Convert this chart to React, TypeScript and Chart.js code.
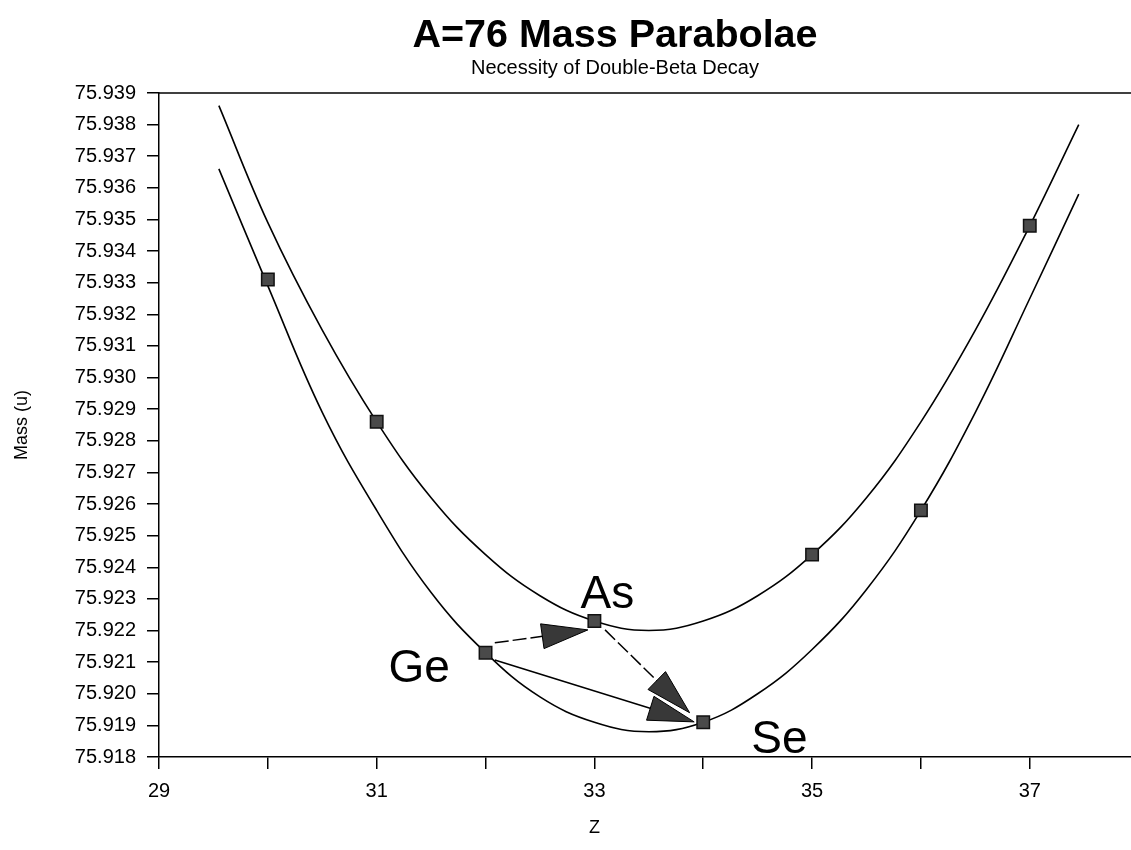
import React, { useEffect, useRef } from 'react';
import { Chart, registerables } from 'chart.js';

Chart.register(...registerables);

const FONT = '"Liberation Sans", Arial, Helvetica, sans-serif';

// ---- text ----
const chartTitle = 'A=76 Mass Parabolae';
const chartSubtitle = 'Necessity of Double-Beta Decay';
const xAxisTitle = 'Z';
const yAxisTitle = 'Mass (u)';

// ---- measured isotopes (A = 76) ----
const isotopeZ = [30, 31, 32, 33, 34, 35, 36, 37];
const isotopeMass = [75.9331, 75.9286, 75.9213, 75.9223, 75.9191, 75.9244, 75.9258, 75.9348];

// ---- parabola curves ----
const curveZ = [29.55, 30, 30.5, 31, 31.5, 32, 32.5, 33, 33.5, 34, 34.5, 35, 35.5, 36, 36.5, 37, 37.45];
const oddOddMass = [
  75.9386, 75.9349, 75.9315, 75.9286, 75.9262, 75.9244, 75.9231, 75.9223, 75.922,
  75.9223, 75.9231, 75.9244, 75.9262, 75.9286, 75.9315, 75.9348, 75.938,
];
const evenEvenMass = [
  75.9366, 75.9329, 75.9289, 75.9258, 75.9232, 75.9213, 75.9199, 75.9191, 75.9188,
  75.9191, 75.92, 75.9214, 75.9233, 75.9258, 75.9289, 75.9325, 75.9358,
];

// ---- axes ----
const xMin = 29;
const xMax = 37.93;
const xStep = 1;
const xLabelTicks = [29, 31, 33, 35, 37];
const yMin = 75.918;
const yMax = 75.939;
const yStep = 0.001;

// ---- annotations (data coordinates) ----
const nuclideLabels = ['Ge', 'As', 'Se'];
const nuclideLabelZ = [31.39, 33.12, 34.7];
const nuclideLabelMass = [75.92038, 75.92272, 75.91813];

const arrowFromZ = [32.085, 33.098, 32.085];
const arrowFromMass = [75.92161, 75.92202, 75.92107];
const arrowToZ = [32.94, 33.875, 33.917];
const arrowToMass = [75.92202, 75.9194, 75.91911];
const arrowDashed = [true, true, false];

const xTitleAtZ = 33;

const decorPlugin = {
  id: 'decor',
  beforeDatasetsDraw(chart: any) {
    const { ctx, chartArea, scales } = chart;
    const xs = scales.x;
    const ys = scales.y;
    ctx.save();
    // top frame line
    ctx.strokeStyle = '#000';
    ctx.lineWidth = 1.5;
    ctx.beginPath();
    ctx.moveTo(chartArea.left, chartArea.top);
    ctx.lineTo(chart.width, chartArea.top);
    ctx.stroke();

    // arrows
    for (let i = 0; i < arrowFromZ.length; i++) {
      const x0 = xs.getPixelForValue(arrowFromZ[i]);
      const y0 = ys.getPixelForValue(arrowFromMass[i]);
      const x1 = xs.getPixelForValue(arrowToZ[i]);
      const y1 = ys.getPixelForValue(arrowToMass[i]);
      const ang = Math.atan2(y1 - y0, x1 - x0);
      const c = Math.cos(ang);
      const s = Math.sin(ang);
      const headLen = 46;
      const headHalf = 12.5;
      const bx = x1 - headLen * c;
      const by = y1 - headLen * s;
      ctx.strokeStyle = '#000';
      ctx.lineWidth = 1.5;
      ctx.setLineDash(arrowDashed[i] ? [14, 4] : []);
      ctx.beginPath();
      ctx.moveTo(x0, y0);
      ctx.lineTo(bx + 4 * c, by + 4 * s);
      ctx.stroke();
      ctx.setLineDash([]);
      ctx.beginPath();
      ctx.moveTo(x1, y1);
      ctx.lineTo(bx + headHalf * s, by - headHalf * c);
      ctx.lineTo(bx - headHalf * s, by + headHalf * c);
      ctx.closePath();
      ctx.fillStyle = '#383838';
      ctx.fill();
      ctx.lineWidth = 1;
      ctx.strokeStyle = '#000';
      ctx.stroke();
    }
    ctx.restore();
  },
  afterDatasetsDraw(chart: any) {
    const { ctx, scales } = chart;
    const xs = scales.x;
    const ys = scales.y;
    ctx.save();
    ctx.fillStyle = '#000';
    ctx.textAlign = 'center';
    ctx.textBaseline = 'alphabetic';

    // title + subtitle
    ctx.font = `bold 39.5px ${FONT}`;
    ctx.fillText(chartTitle, 615, 47);
    ctx.font = `20px ${FONT}`;
    ctx.fillText(chartSubtitle, 615, 74);

    // nuclide labels
    ctx.font = `46px ${FONT}`;
    for (let i = 0; i < nuclideLabels.length; i++) {
      ctx.fillText(
        nuclideLabels[i],
        xs.getPixelForValue(nuclideLabelZ[i]),
        ys.getPixelForValue(nuclideLabelMass[i])
      );
    }

    // x axis title
    ctx.font = `18px ${FONT}`;
    ctx.textBaseline = 'middle';
    ctx.fillText(xAxisTitle, xs.getPixelForValue(xTitleAtZ), 828);
    ctx.restore();
  },
};

export default function App() {
  const canvasRef = useRef<HTMLCanvasElement | null>(null);

  useEffect(() => {
    const canvas = canvasRef.current;
    if (!canvas) return;

    const axisGrid = {
      drawOnChartArea: false,
      drawTicks: true,
      tickLength: 12,
      color: '#000',
      lineWidth: 1.5,
    };

    const chart = new Chart(canvas, {
      type: 'scatter',
      data: {
        datasets: [
          {
            label: 'Isotopes',
            data: isotopeZ.map((z, i) => ({ x: z, y: isotopeMass[i] })),
            showLine: false,
            pointStyle: 'rect',
            pointRadius: 8.8,
            backgroundColor: '#4a4a4a',
            borderColor: '#111',
            borderWidth: 1.5,
          },
          {
            label: 'Odd-odd',
            data: curveZ.map((z, i) => ({ x: z, y: oddOddMass[i] })),
            showLine: true,
            tension: 0.4,
            pointRadius: 0,
            borderColor: '#000',
            borderWidth: 1.6,
            fill: false,
          },
          {
            label: 'Even-even',
            data: curveZ.map((z, i) => ({ x: z, y: evenEvenMass[i] })),
            showLine: true,
            tension: 0.4,
            pointRadius: 0,
            borderColor: '#000',
            borderWidth: 1.6,
            fill: false,
          },
        ],
      },
      options: {
        animation: false,
        responsive: true,
        maintainAspectRatio: false,
        events: [],
        layout: { autoPadding: false, padding: { top: 93, left: 0, right: 0, bottom: 0 } },
        plugins: {
          legend: { display: false },
          tooltip: { enabled: false },
          title: { display: false },
        },
        scales: {
          x: {
            type: 'linear',
            min: xMin,
            max: xMax,
            afterFit: (scale: any) => {
              scale.height = 93;
              scale.paddingLeft = 0;
              scale.paddingRight = 0;
            },
            ticks: {
              stepSize: xStep,
              includeBounds: false,
              autoSkip: false,
              maxRotation: 0,
              padding: 10,
              color: '#000',
              font: { family: FONT, size: 20 },
              callback: (value: any) => (xLabelTicks.includes(Number(value)) ? String(value) : ''),
            },
            grid: axisGrid,
            border: { display: true, color: '#000', width: 1.5 },
          },
          y: {
            type: 'linear',
            min: yMin,
            max: yMax,
            afterFit: (scale: any) => {
              scale.width = 159;
            },
            ticks: {
              stepSize: yStep,
              autoSkip: false,
              padding: 11,
              color: '#000',
              font: { family: FONT, size: 20 },
              callback: (value: any) => Number(value).toFixed(3),
            },
            grid: axisGrid,
            border: { display: true, color: '#000', width: 1.5 },
            title: {
              display: true,
              text: yAxisTitle,
              color: '#000',
              font: { family: FONT, size: 18 },
              padding: { top: 11, bottom: 0 },
            },
          },
        },
      },
      plugins: [decorPlugin],
    });

    return () => chart.destroy();
  }, []);

  return (
    <div
      style={{
        position: 'absolute',
        left: 0,
        top: 0,
        width: 1131,
        height: 850,
        background: '#fff',
      }}
    >
      <canvas ref={canvasRef} />
    </div>
  );
}
